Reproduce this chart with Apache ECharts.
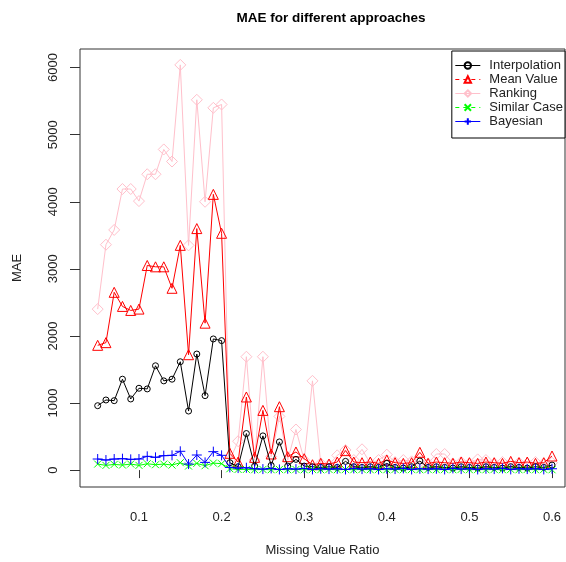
<!DOCTYPE html>
<html>
<head>
<meta charset="utf-8">
<script src="https://cdn.jsdelivr.net/npm/echarts@6/dist/echarts.min.js"></script>
<style>html,body{margin:0;padding:0;background:#fff;}#c{width:566px;height:562px;}</style>
</head>
<body>
<div id="c"></div>
<script>
var ratios = [];
for (var k = 5; k <= 60; k++) ratios.push(k / 100);
var xTicks = [0.1, 0.2, 0.3, 0.4, 0.5, 0.6];
var yTicks = [0, 1000, 2000, 3000, 4000, 5000, 6000];

var interpolation = [960,1045,1035,1355,1060,1220,1210,1555,1330,1355,1615,880,1730,1110,1955,1930,110,50,545,60,510,70,420,60,160,60,50,40,50,40,130,50,40,50,40,100,40,30,50,135,40,50,40,30,50,40,30,50,40,30,50,40,30,50,40,75];
var meanValue = [1860,1900,2650,2440,2380,2400,3050,3030,3030,2710,3350,1720,3600,2190,4110,3530,250,120,1090,190,890,240,945,200,270,170,80,100,90,120,290,120,110,120,100,150,110,100,110,265,100,120,110,100,120,110,100,120,110,100,130,110,120,100,110,210];
var ranking = [2400,3360,3580,4190,4190,4010,4410,4410,4780,4600,6040,3350,5520,4000,5400,5450,150,430,1690,150,1690,200,800,150,605,150,1330,100,80,220,300,150,310,100,150,230,120,150,130,120,100,240,240,100,120,100,160,150,100,120,100,110,100,120,100,110];
var similarCase = [90,70,85,75,90,70,95,80,90,75,110,60,100,65,105,95,20,10,10,5,10,5,10,5,10,5,10,5,10,5,10,5,10,5,10,5,10,5,10,5,10,5,10,5,10,5,10,5,10,5,10,5,10,5,10,5];
var bayesian = [165,150,165,170,160,165,205,190,215,220,280,90,225,115,275,220,40,30,35,20,15,25,10,20,15,25,10,20,15,20,10,25,15,20,10,20,15,25,10,20,15,20,10,25,15,20,10,20,15,25,10,20,15,20,10,20];

function pairs(arr) { return ratios.map(function (r, i) { return [r, arr[i]]; }); }

var PLUS = 'path://M5,0L5,10M0,5L10,5';
var CROSS = 'path://M0,0L10,10M10,0L0,10';

function mkSeries(name, data, color, symbol, size, z) {
  return {
    name: name, type: 'line', data: pairs(data), z: z,
    symbol: symbol, symbolSize: size, showAllSymbol: true,
    lineStyle: { color: color, width: 1 },
    itemStyle: { color: 'rgba(0,0,0,0)', borderColor: color, borderWidth: 1 },
    emphasis: { disabled: true }, animation: false
  };
}

var chart = echarts.init(document.getElementById('c'), null, { renderer: 'canvas' });
chart.setOption({
  backgroundColor: '#fff',
  animation: false,
  title: {
    text: 'MAE for different approaches', left: 326, top: 6, textAlign: 'center',
    textStyle: { fontFamily: 'Liberation Sans', fontSize: 13.5, fontWeight: 'bold', color: '#000' }
  },
  legend: {
    orient: 'vertical', right: 1, top: 51,
    padding: [8, 2, 10, 3], itemGap: 1, itemWidth: 25, itemHeight: 8,
    borderColor: '#000', borderWidth: 1, backgroundColor: '#fff',
    lineStyle: { width: 1 },
    textStyle: { fontFamily: 'Liberation Sans', fontSize: 13, color: '#222', padding: [0, 0, 0, 4] },
    data: [
      { name: 'Interpolation', lineStyle: { width: 1 } },
      { name: 'Mean Value', lineStyle: { width: 1, type: [4, 4] } },
      { name: 'Ranking', lineStyle: { width: 1 } },
      { name: 'Similar Case', lineStyle: { width: 1, type: [4, 4] } },
      { name: 'Bayesian', lineStyle: { width: 1 } }
    ]
  },
  grid: { left: 80, right: 1, top: 49, bottom: 75, show: true, borderColor: '#333', borderWidth: 1, containLabel: false },
  xAxis: {
    type: 'value', min: 0.0286, max: 0.6157,
    name: 'Missing Value Ratio', nameLocation: 'middle', nameGap: 57,
    nameTextStyle: { fontFamily: 'Liberation Sans', fontSize: 13, color: '#222' },
    axisLine: { show: false },
    axisTick: { show: true, length: 8, inside: false, customValues: xTicks, lineStyle: { color: '#333' } },
    axisLabel: { customValues: xTicks, margin: 24, fontFamily: 'Liberation Sans', fontSize: 13, color: '#222',
      formatter: function (v) { return String(v); } },
    splitLine: { show: false }
  },
  yAxis: {
    type: 'value', min: -252, max: 6277,
    name: 'MAE', nameLocation: 'middle', nameGap: 56, nameRotate: 90,
    nameTextStyle: { fontFamily: 'Liberation Sans', fontSize: 13, color: '#222' },
    axisLine: { show: false },
    axisTick: { show: true, length: 10, inside: false, customValues: yTicks, lineStyle: { color: '#333' } },
    axisLabel: { customValues: yTicks, rotate: 90, margin: 20, fontFamily: 'Liberation Sans', fontSize: 13, color: '#222',
      formatter: function (v) { return String(v); } },
    splitLine: { show: false }
  },
  series: [
    mkSeries('Interpolation', interpolation, '#000000', 'circle', 6, 5),
    mkSeries('Mean Value', meanValue, '#FF0000', 'triangle', 10, 4),
    mkSeries('Ranking', ranking, '#FFC0CB', 'diamond', 11, 3),
    mkSeries('Similar Case', similarCase, '#00FF00', CROSS, 7, 6),
    mkSeries('Bayesian', bayesian, '#0000FF', PLUS, 10, 7)
  ]
});
</script>
</body>
</html>
